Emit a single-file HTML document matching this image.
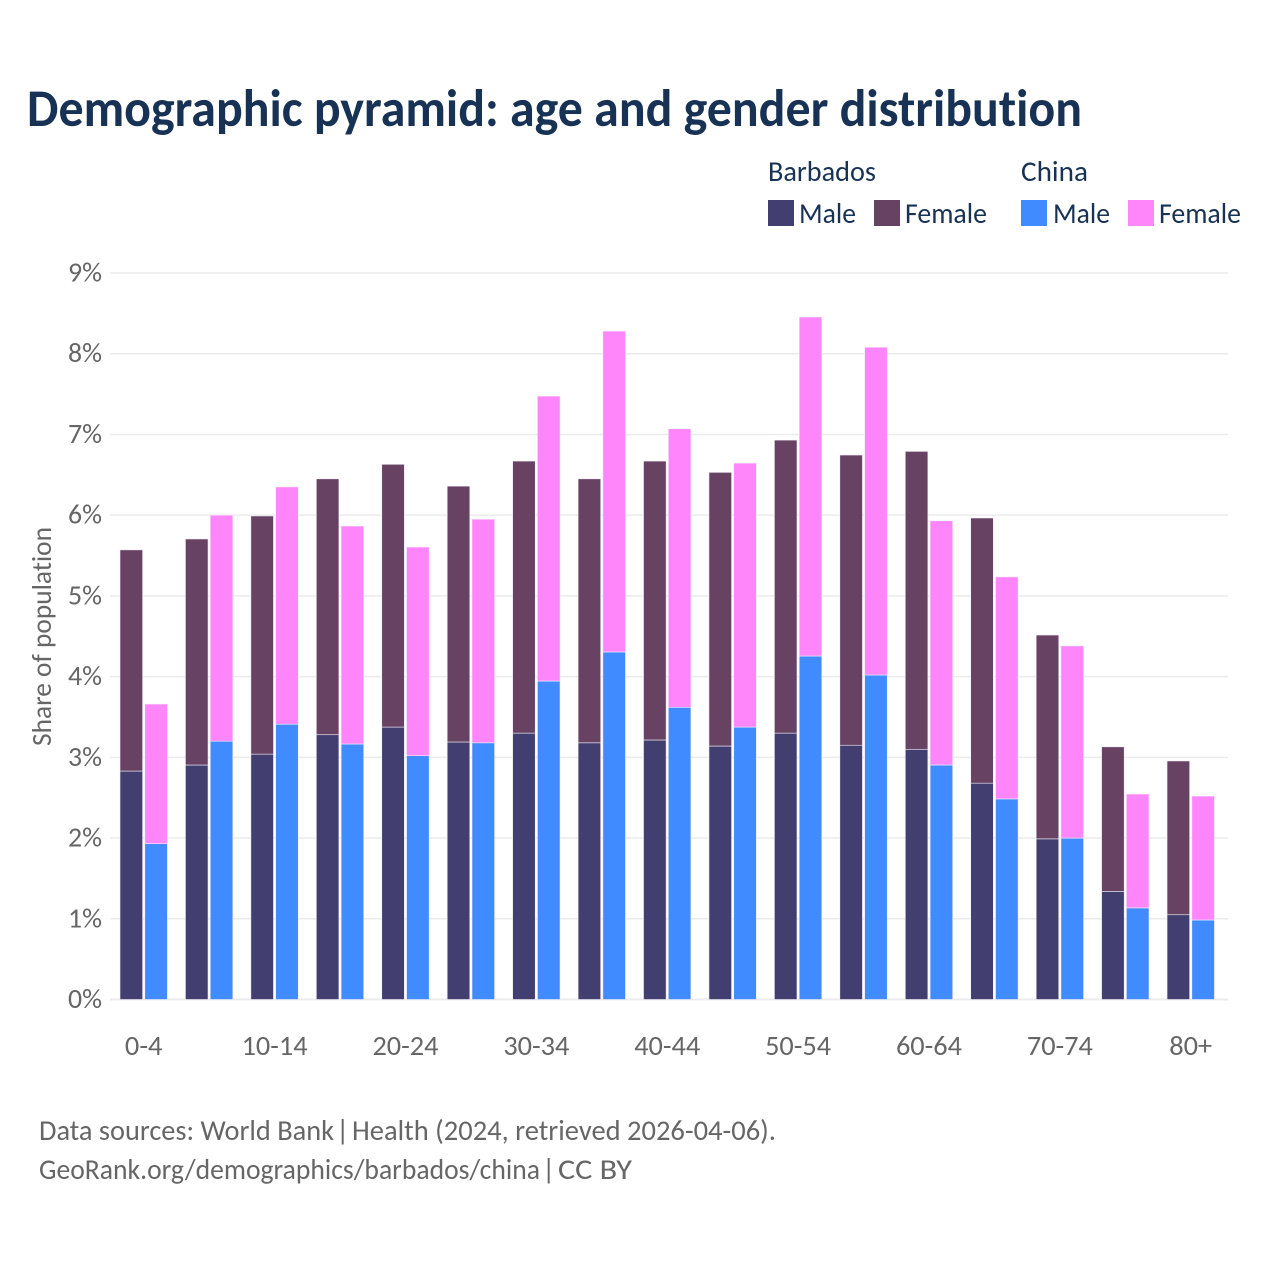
<!DOCTYPE html>
<html lang="en">
<head>
<meta charset="utf-8">
<title>Demographic pyramid: age and gender distribution</title>
<style>
  html, body { margin: 0; padding: 0; background: #fff; }
  #chart { display: block; width: 1280px; height: 1280px; }
  text { font-family: "Carlito", "Lato", "Liberation Sans", sans-serif; font-variant-ligatures: none; }
</style>
</head>
<body>
<svg id="chart" xmlns="http://www.w3.org/2000/svg" width="1280" height="1280" viewBox="0 0 1280 1280">
  <rect x="0" y="0" width="1280" height="1280" fill="#ffffff"/>
  <text x="27" y="126" font-size="53" font-weight="700" fill="#173254" textLength="1055" lengthAdjust="spacingAndGlyphs">Demographic pyramid: age and gender distribution</text>

  <g font-size="29" fill="#173254">
    <text x="768" y="181" textLength="108" lengthAdjust="spacingAndGlyphs">Barbados</text>
    <text x="1021" y="181" textLength="67" lengthAdjust="spacingAndGlyphs">China</text>
    <rect x="768" y="200" width="26" height="26" fill="#423f70"/>
    <text x="799" y="223" textLength="57" lengthAdjust="spacingAndGlyphs">Male</text>
    <rect x="874" y="200" width="26" height="26" fill="#674262"/>
    <text x="905" y="223" textLength="82" lengthAdjust="spacingAndGlyphs">Female</text>
    <rect x="1021" y="200" width="26" height="26" fill="#408bff"/>
    <text x="1053" y="223" textLength="57" lengthAdjust="spacingAndGlyphs">Male</text>
    <rect x="1128" y="200" width="26" height="26" fill="#ff85fb"/>
    <text x="1159" y="223" textLength="82" lengthAdjust="spacingAndGlyphs">Female</text>
  </g>

  <g id="grid"></g>
  <g id="y-axis"></g>
  <g id="bars"></g>
  <g id="x-axis"></g>

  <text transform="translate(51,636.5) rotate(-90)" text-anchor="middle" font-size="28" fill="#666666" textLength="219" lengthAdjust="spacingAndGlyphs">Share of population</text>

  <text y="1140" font-size="29" fill="#666666"><tspan x="39" textLength="295" lengthAdjust="spacingAndGlyphs">Data sources: World Bank</tspan> <tspan x="336">|</tspan> <tspan x="352" textLength="424" lengthAdjust="spacingAndGlyphs">Health (2024, retrieved 2026-04-06).</tspan></text>
  <text y="1179" font-size="29" fill="#666666"><tspan x="39" textLength="501" lengthAdjust="spacingAndGlyphs">GeoRank.org/demographics/barbados/china</tspan> <tspan x="542">|</tspan> <tspan x="558" textLength="74" lengthAdjust="spacingAndGlyphs">CC BY</tspan></text>
</svg>

<script>
const categories = ['0-4','5-9','10-14','15-19','20-24','25-29','30-34','35-39','40-44','45-49','50-54','55-59','60-64','65-69','70-74','75-79','80+'];
const categoryLabels = ['0-4','','10-14','','20-24','','30-34','','40-44','','50-54','','60-64','','70-74','','80+'];
const barbadosMale = [2.83,2.905,3.04,3.28,3.375,3.19,3.30,3.18,3.215,3.14,3.30,3.15,3.10,2.68,1.99,1.34,1.05];
const barbadosFemale = [2.74,2.80,2.95,3.17,3.255,3.17,3.37,3.27,3.455,3.39,3.63,3.595,3.69,3.285,2.525,1.79,1.905];
const chinaMale = [1.93,3.20,3.41,3.165,3.02,3.18,3.945,4.305,3.62,3.375,4.255,4.02,2.905,2.485,2.00,1.135,0.985];
const chinaFemale = [1.73,2.80,2.94,2.70,2.585,2.77,3.53,3.975,3.45,3.27,4.20,4.06,3.025,2.75,2.38,1.41,1.535];
const yTicks = [0,1,2,3,4,5,6,7,8,9];

const SVG_NS = 'http://www.w3.org/2000/svg';
const plotLeft = 110, plotRight = 1228, plotBottom = 999.5, plotTop = 273;
const yMax = 9;
function yScale(v) { return plotBottom - (v / yMax) * (plotBottom - plotTop); }
const firstGroupLeft = 120, groupPitch = 65.44, barWidth = 22.6, barOffset = 24.8;
function xScale(i) { return firstGroupLeft + i * groupPitch; }
function xCenter(i) { return xScale(i) + (barOffset + barWidth) / 2; }

function make(tag, attrs, parent) {
  const el = document.createElementNS(SVG_NS, tag);
  for (const k in attrs) el.setAttribute(k, attrs[k]);
  parent.appendChild(el);
  return el;
}

const gridG = document.getElementById('grid');
const yG = document.getElementById('y-axis');
yTicks.forEach(function (t) {
  const line = make('line', { x1: plotLeft, x2: plotRight, y1: yScale(t), y2: yScale(t), stroke: '#ebebeb', 'stroke-width': t === 0 ? 2 : 1.5 }, gridG);
  
  
  const label = make('text', { x: 102, y: yScale(t) + 8.5, 'text-anchor': 'end', 'font-size': 28, fill: '#666666', textLength: 34, lengthAdjust: 'spacingAndGlyphs' }, yG);
  
  
  label.textContent = t + '%';
});

const barsG = document.getElementById('bars');
function drawSegment(x, v0, v1, fill, name) {
  const r = make('rect', { x: x, y: yScale(v1), width: barWidth, height: yScale(v0) - yScale(v1), fill: fill, stroke: '#f2eef8', 'stroke-width': 0.6 }, barsG);
  
  
}
categories.forEach(function (c, i) {
  const x1 = xScale(i), x2 = xScale(i) + barOffset;
  drawSegment(x1, 0, barbadosMale[i], '#423f70', 'bar-barbados-male-' + c);
  drawSegment(x1, barbadosMale[i], barbadosMale[i] + barbadosFemale[i], '#674262', 'bar-barbados-female-' + c);
  drawSegment(x2, 0, chinaMale[i], '#408bff', 'bar-china-male-' + c);
  drawSegment(x2, chinaMale[i], chinaMale[i] + chinaFemale[i], '#ff85fb', 'bar-china-female-' + c);
});

const xG = document.getElementById('x-axis');
categoryLabels.forEach(function (lab, i) {
  if (!lab) return;
  const widthPerChar = lab === '80+' ? 14.3 : (lab.length === 3 ? 12.5 : 13.2);
  const t = make('text', { x: xCenter(i), y: 1055, 'text-anchor': 'middle', 'font-size': 28, fill: '#666666', textLength: lab.length * widthPerChar, lengthAdjust: 'spacingAndGlyphs' }, xG);
  
  
  t.textContent = lab;
});
</script>
</body>
</html>
